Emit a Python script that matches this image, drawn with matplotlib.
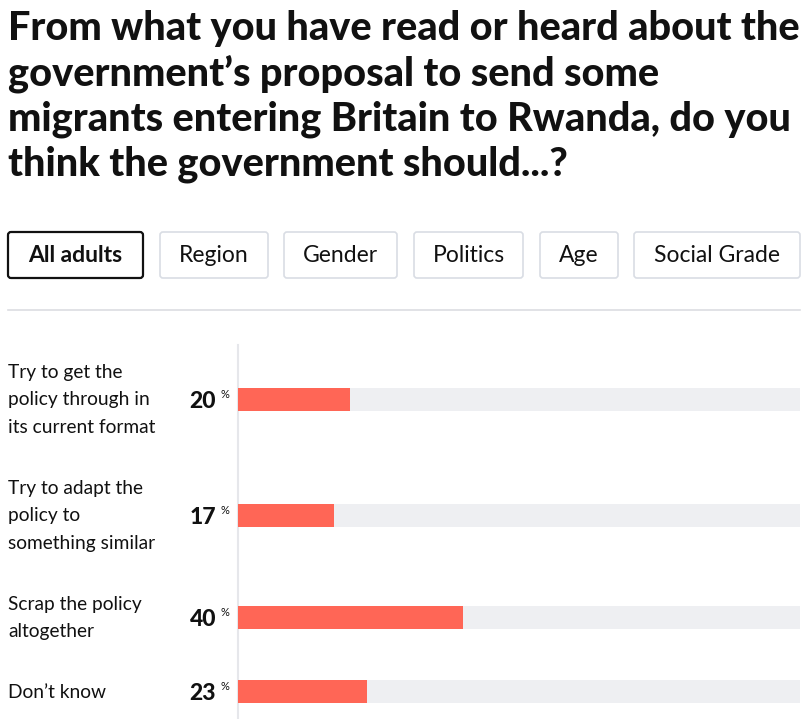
import numpy as np
import matplotlib.pyplot as plt
from matplotlib.patches import FancyBboxPatch

title = ("From what you have read or heard about the\n"
         "government\u2019s proposal to send some\n"
         "migrants entering Britain to Rwanda, do you\n"
         "think the government should...?")
tabs = ["All adults", "Region", "Gender", "Politics", "Age", "Social Grade"]
categories = ["Try to get the\npolicy through in\nits current format",
              "Try to adapt the\npolicy to\nsomething similar",
              "Scrap the policy\naltogether",
              "Don\u2019t know"]
values = [20, 17, 40, 23]

BAR_COLOR = "#ff6656"
TRACK_COLOR = "#eeeff2"
W, H = 812, 719

fig = plt.figure(figsize=(W / 100, H / 100), dpi=100)
plt.rcParams['font.family'] = ['Lato', 'DejaVu Sans']

# overlay axes in pixel units for text and chrome
ov = fig.add_axes([0, 0, 1, 1])
ov.set_xlim(0, W)
ov.set_ylim(H, 0)
ov.axis('off')

ov.text(8, 10, title, fontsize=28.5, fontweight='black', va='top', ha='left',
        linespacing=1.25, color='#111111')

# tabs
tab_x = [8, 160, 284, 414, 540, 634]
tab_w = [135, 108, 113, 109, 78, 166]
for i, (t, x, w) in enumerate(zip(tabs, tab_x, tab_w)):
    active = i == 0
    box = FancyBboxPatch((x, 232), w, 46, boxstyle="round,pad=0,rounding_size=3",
                         fc='white', ec='#111111' if active else '#d9dde4',
                         lw=1.6 if active else 1.2)
    ov.add_patch(box)
    ov.text(x + w / 2, 256, t, ha='center', va='center', fontsize=16.5,
            fontweight='bold' if active else 'normal', color='#111111')

ov.plot([8, 800], [310, 310], color='#dcdde1', lw=1.2)

# row layout from label line counts
line_h, gap = 28, 32
n_lines = [c.count('\n') + 1 for c in categories]
centers = []
y = 400 - n_lines[0] * line_h / 2
for n in n_lines:
    centers.append(y + n * line_h / 2)
    y += n * line_h + gap

# bar axes
left, right, top = 238, 800, 345
ax = fig.add_axes([left / W, 0, (right - left) / W, (H - top) / H])
ax.set_xlim(0, 100)
ax.set_ylim(H, top)
ax.axis('off')
ax.barh(centers, [100] * len(values), height=23, color=TRACK_COLOR)
ax.barh(centers, values, height=23, color=BAR_COLOR)

ov.plot([238, 238], [345, H], color='#e6e7eb', lw=1.5)

for c, v, yc in zip(categories, values, centers):
    ov.text(8, yc, c, ha='left', va='center', fontsize=13.8, linespacing=1.75,
            color='#111111')
    ov.text(216, yc + 1, str(v), ha='right', va='center', fontsize=16.5,
            fontweight='black', color='#111111')
    ov.text(221, yc - 5, '%', ha='left', va='center', fontsize=8, color='#111111')

fig.savefig('out.png', dpi=100, facecolor='white')
